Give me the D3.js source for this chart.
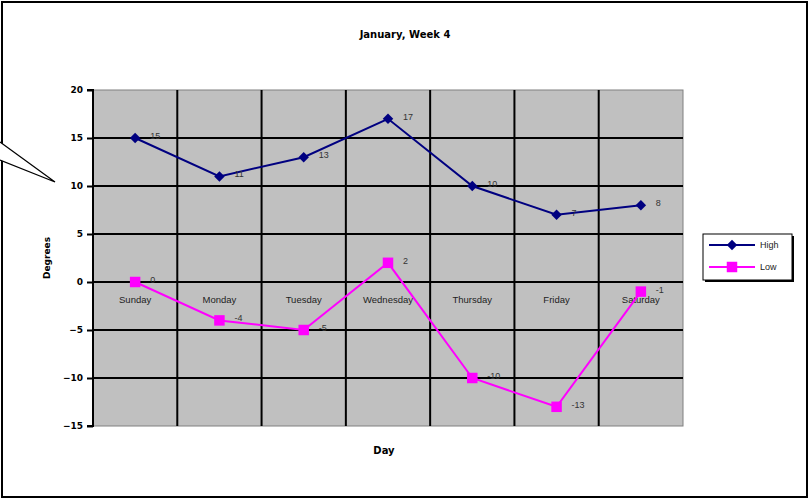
<!DOCTYPE html>
<html>
<head>
<meta charset="utf-8">
<script src="https://cdn.jsdelivr.net/npm/d3@7"></script>
<style>
  html, body { margin: 0; padding: 0; background: #fff; }
  svg { display: block; }
  text { font-family: Arial, "Liberation Sans", sans-serif; }
</style>
</head>
<body>
<svg id="chart" width="811" height="500"></svg>
<script>
// Daily temperatures for the week
const days = ["Sunday", "Monday", "Tuesday", "Wednesday", "Thursday", "Friday", "Saturday"];
const highs = [15, 11, 13, 17, 10, 7, 8];
const lows = [0, -4, -5, 2, -10, -13, -1];
const yTicks = [20, 15, 10, 5, 0, -5, -10, -15];
const seriesNames = ["High", "Low"];
const seriesColors = ["#000080", "#ff00ff"];

const svg = d3.select("#chart");

// outer frame
svg.append("rect").attr("x", 2).attr("y", 2).attr("width", 805).attr("height", 495)
  .attr("fill", "none").attr("stroke", "#000").attr("stroke-width", 2);

// callout pointer on the left edge
svg.append("path")
  .attr("d", "M0,142 L55,182 L0,160")
  .attr("fill", "#fff").attr("stroke", "#000").attr("stroke-width", 1.2);

const plot = { left: 93, right: 683, top: 90, bottom: 426 };

const x = d3.scaleBand().domain(days).range([plot.left, plot.right]).padding(0);
const y = d3.scaleLinear().domain([-15, 20]).range([plot.bottom, plot.top]);

// plot background
svg.append("rect")
  .attr("x", plot.left).attr("y", plot.top)
  .attr("width", plot.right - plot.left).attr("height", plot.bottom - plot.top)
  .attr("fill", "#c0c0c0").attr("stroke", "#808080").attr("stroke-width", 1);

// horizontal grid lines
svg.append("g").selectAll("line").data(yTicks.filter(t => t !== 20 && t !== -15)).join("line")
  .attr("x1", plot.left).attr("x2", plot.right)
  .attr("y1", d => y(d)).attr("y2", d => y(d))
  .attr("stroke", "#000").attr("stroke-width", 2);

// vertical grid lines at category boundaries
svg.append("g").selectAll("line").data(days.slice(1)).join("line")
  .attr("x1", d => x(d)).attr("x2", d => x(d))
  .attr("y1", plot.top).attr("y2", plot.bottom)
  .attr("stroke", "#000").attr("stroke-width", 2);

// y axis
const yAxis = d3.axisLeft(y).tickValues(yTicks).tickSize(6).tickPadding(4).tickFormat(d3.format("d"));
const yg = svg.append("g").attr("transform", `translate(${plot.left},0)`).call(yAxis);
yg.select(".domain").attr("stroke", "#000").attr("stroke-width", 2).attr("d", `M-6,${plot.top}H0V${plot.bottom}H-6`);
yg.selectAll(".tick line").attr("stroke", "#000").attr("stroke-width", 2);
yg.selectAll(".tick text")
  .attr("font-size", 9).attr("font-weight", "bold").attr("fill", "#000")
  .style("font-family", "Arial Black, 'DejaVu Sans', sans-serif");

// category labels sit inside the plot, just under the zero line
svg.append("g").selectAll("text").data(days).join("text")
  .attr("x", d => x(d) + x.bandwidth() / 2)
  .attr("y", y(0) + 21)
  .attr("text-anchor", "middle")
  .attr("font-size", 9.5).attr("fill", "#222")
  .text(d => d);

// title and axis titles
svg.append("text").attr("x", 405).attr("y", 38).attr("text-anchor", "middle")
  .attr("font-size", 10).attr("font-weight", "bold")
  .style("font-family", "'DejaVu Sans', sans-serif")
  .text("January, Week 4");
svg.append("text").attr("x", 384).attr("y", 454).attr("text-anchor", "middle")
  .attr("font-size", 10).attr("font-weight", "bold")
  .style("font-family", "'DejaVu Sans', sans-serif")
  .text("Day");
svg.append("text")
  .attr("transform", "translate(50,258) rotate(-90)")
  .attr("text-anchor", "middle")
  .attr("font-size", 9).attr("font-weight", "bold")
  .style("font-family", "'DejaVu Sans', sans-serif")
  .text("Degrees");

const cx = d => x(d) + x.bandwidth() / 2;
const line = d3.line().x(d => cx(d.day)).y(d => y(d.v));

const series = [highs, lows].map((vals, i) => ({
  name: seriesNames[i],
  color: seriesColors[i],
  points: days.map((day, j) => ({ day, v: vals[j] }))
}));

const diamond = d3.symbol().type(d3.symbolDiamond2).size(70);
const square = d3.symbol().type(d3.symbolSquare).size(110);

series.forEach((s, i) => {
  const g = svg.append("g");
  g.append("path").datum(s.points).attr("d", line)
    .attr("fill", "none").attr("stroke", s.color).attr("stroke-width", 2);
  g.selectAll("path.mk").data(s.points).join("path").attr("class", "mk")
    .attr("transform", d => `translate(${cx(d.day)},${y(d.v)})`)
    .attr("d", i === 0 ? diamond : square)
    .attr("fill", s.color);
  g.selectAll("text").data(s.points).join("text")
    .attr("x", d => cx(d.day) + 15)
    .attr("y", d => y(d.v) + 1)
    .attr("font-size", 9).attr("fill", "#333")
    .text(d => d.v);
});

// legend
const lg = svg.append("g").attr("transform", "translate(703,234)");
lg.append("rect").attr("x", 2).attr("y", 2).attr("width", 89).attr("height", 46).attr("fill", "#000");
lg.append("rect").attr("width", 89).attr("height", 46).attr("fill", "#fff").attr("stroke", "#000").attr("stroke-width", 1);
series.forEach((s, i) => {
  const yy = 11 + i * 22;
  lg.append("line").attr("x1", 6).attr("x2", 52).attr("y1", yy).attr("y2", yy)
    .attr("stroke", s.color).attr("stroke-width", 2);
  lg.append("path").attr("transform", `translate(29,${yy})`)
    .attr("d", i === 0 ? diamond : square).attr("fill", s.color);
  lg.append("text").attr("x", 57).attr("y", yy + 3).attr("font-size", 9).attr("fill", "#222").text(s.name);
});
</script>
</body>
</html>
